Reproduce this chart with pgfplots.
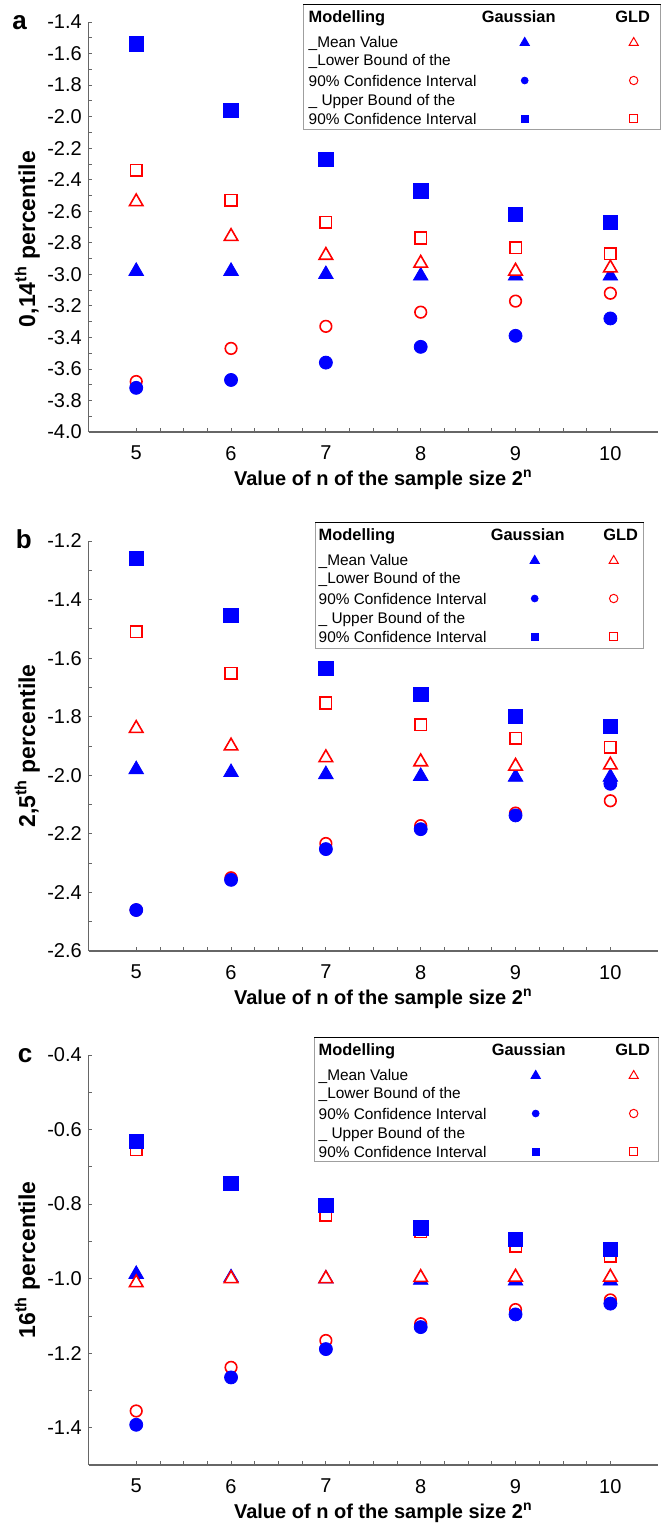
\documentclass[border=0pt]{standalone}
\usepackage{pgfplots}
\pgfplotsset{compat=1.18}
\usepackage{pgfplotstable}
\usepackage{fontspec}
\setmainfont{Liberation Sans}

% columns: n, Gaussian mean/lower/upper, GLD mean/lower/upper
\pgfplotstableread{
n gmean glow gup lmean llow lup
5  -2.98 -3.72 -1.54 -2.54 -3.68 -2.34
6  -2.98 -3.67 -1.96 -2.76 -3.47 -2.53
7  -3.00 -3.56 -2.27 -2.88 -3.33 -2.67
8  -3.01 -3.46 -2.47 -2.93 -3.24 -2.77
9  -3.01 -3.39 -2.62 -2.98 -3.17 -2.83
10 -3.01 -3.28 -2.67 -2.96 -3.12 -2.87
}\dataA

\pgfplotstableread{
n gmean glow gup lmean llow lup
5  -1.980 -2.460 -1.260 -1.840 -2.460 -1.510
6  -1.990 -2.357 -1.454 -1.900 -2.350 -1.652
7  -1.997 -2.252 -1.636 -1.940 -2.233 -1.753
8  -2.003 -2.184 -1.724 -1.954 -2.172 -1.827
9  -2.006 -2.137 -1.799 -1.969 -2.129 -1.874
10 -2.006 -2.029 -1.834 -1.965 -2.087 -1.905
}\dataB

\pgfplotstableread{
n gmean glow gup lmean llow lup
5  -0.988 -1.392 -0.632 -1.011 -1.355 -0.654
6  -0.997 -1.265 -0.744 -1.000 -1.238 -0.748
7  -1.000 -1.189 -0.804 -1.000 -1.166 -0.829
8  -1.004 -1.130 -0.864 -0.997 -1.121 -0.874
9  -1.006 -1.096 -0.894 -0.996 -1.083 -0.913
10 -1.006 -1.067 -0.922 -0.996 -1.057 -0.939
}\dataC

% legend body: #1 width, #2 height, #3 text x, #4 Gaussian header x, #5 Gaussian mark x, #6 GLD header x, #7 GLD mark x
\newcommand{\legendbody}[7]{%
  \path (0pt,0pt) rectangle (#1,-#2);
  \draw[gray!75, line width=0.7pt] (0pt,0pt) -- (0pt,-#2) -- (#1,-#2) -- (#1,0pt);
  \node[anchor=base west, inner sep=0pt, font=\bfseries\fontsize{8.2}{9}\selectfont] at (#3,-8.95pt) {Modelling};
  \node[anchor=base, inner sep=0pt, font=\bfseries\fontsize{8.2}{9}\selectfont] at (#4,-8.95pt) {Gaussian};
  \node[anchor=base, inner sep=0pt, font=\bfseries\fontsize{8.2}{9}\selectfont] at (#6,-8.95pt) {GLD};
  \node[anchor=base west, inner sep=0pt, font=\fontsize{7.7}{9}\selectfont] at (#3,-21.25pt) {\_Mean Value};
  \node[anchor=base west, inner sep=0pt, font=\fontsize{7.7}{9}\selectfont] at (#3,-30.25pt) {\_Lower Bound of the};
  \node[anchor=base west, inner sep=0pt, font=\fontsize{7.7}{9}\selectfont] at (#3,-40.75pt) {90\% Confidence Interval};
  \node[anchor=base west, inner sep=0pt, font=\fontsize{7.7}{9}\selectfont] at (#3,-50.25pt) {\_ Upper Bound of the};
  \node[anchor=base west, inner sep=0pt, font=\fontsize{7.7}{9}\selectfont] at (#3,-59.75pt) {90\% Confidence Interval};
  \draw[blue, fill=blue, mark=triangle*, mark size=2.7pt, mark options={blue, fill=blue}] plot coordinates {(#5,-19.1pt)};
  \draw[red, mark=triangle*, mark size=2.6pt, mark options={draw=red, fill=white, line width=0.5pt}] plot coordinates {(#7,-19.1pt)};
  \draw[blue, mark=*, mark size=1.7pt, mark options={blue, fill=blue}] plot coordinates {(#5,-38pt)};
  \draw[red, mark=*, mark size=2.1pt, mark options={draw=red, fill=white, line width=0.5pt}] plot coordinates {(#7,-38pt)};
  \draw[blue, mark=square*, mark size=1.7pt, mark options={blue, fill=blue}] plot coordinates {(#5,-57pt)};
  \draw[red, mark=square*, mark size=2.1pt, mark options={draw=red, fill=white, line width=0.5pt}] plot coordinates {(#7,-57pt)};
}

\pgfplotsset{
  panel/.style={
    scale only axis, width=284.5pt, height=205pt,
    xmin=4.5, xmax=10.5, xtick={5,6,7,8,9,10}, minor x tick num=3,
    axis x line*=bottom, axis y line*=left,
    tick align=inside, major tick length=1.8pt, minor tick length=1.8pt,
    axis line style={black!60, line width=0.6pt},
    every tick/.style={black!60, line width=0.4pt},
    tick label style={font=\fontsize{10}{11}\selectfont, black},
    yticklabel style={/pgf/number format/.cd, fixed, fixed zerofill, precision=1, assume math mode=true},
    xticklabel style={/pgf/number format/assume math mode=true, yshift=-3.5pt},
    xlabel={Value of n of the sample size 2\textsuperscript{n}},
    xlabel style={at={([xshift=5pt]axis description cs:0.5,0)}, anchor=base, yshift=-26.6pt, font=\bfseries\fontsize{10}{11}\selectfont},
    ylabel style={anchor=base, font=\bfseries\fontsize{11.5}{12}\selectfont},
    legend style={at={(rel axis cs:0,1)}, anchor=north west, draw=none, fill=none,
      inner sep=0pt, outer sep=0pt, column sep=0pt, row sep=0pt, nodes={inner sep=0pt}},
    clip=false,
  },
  gsq/.style={only marks, mark=square*, mark size=3.6pt, blue, mark options={blue, fill=blue}, forget plot},
  gci/.style={only marks, mark=*, mark size=3.25pt, blue, mark options={blue, fill=blue}, forget plot},
  gtr/.style={only marks, mark=triangle*, mark size=4.2pt, blue, mark options={blue, fill=blue}, forget plot},
  lsq/.style={only marks, mark=square*, mark size=2.9pt, red, mark options={draw=red, fill=white, line width=0.8pt}, forget plot},
  lci/.style={only marks, mark=*, mark size=2.9pt, red, mark options={draw=red, fill=white, line width=0.8pt}, forget plot},
  ltr/.style={only marks, mark=triangle*, mark size=3.9pt, red, mark options={draw=red, fill=white, line width=0.8pt}, forget plot},
}

\begin{document}
\begin{tikzpicture}
\path[use as bounding box] (0pt,0pt) rectangle (333.5pt,-763.5pt);

% ---------- panel a ----------
\begin{axis}[panel, name=A, at={(44.4pt,-11pt)}, anchor=north west,
  ymin=-4.0, ymax=-1.4,
  ytick={-4.0,-3.8,-3.6,-3.4,-3.2,-3.0,-2.8,-2.6,-2.4,-2.2,-2.0,-1.8,-1.6,-1.4},
  minor y tick num=1,
  ylabel={0,14\textsuperscript{th} percentile},
  ylabel style={at={([xshift=-26.8pt,yshift=-6pt]axis description cs:0,0.5)}},
  legend style={xshift=107.1pt, yshift=9.5pt}]
\addplot[lsq] table[x=n,y=lup]{\dataA};
\addplot[gsq] table[x=n,y=gup]{\dataA};
\addplot[lci] table[x=n,y=llow]{\dataA};
\addplot[gci] table[x=n,y=glow]{\dataA};
\addplot[gtr] table[x=n,y=gmean]{\dataA};
\addplot[ltr] table[x=n,y=lmean]{\dataA};
\addlegendimage{legend image code/.code={\legendbody{178.5pt}{62.5pt}{2.5pt}{107.5pt}{110.5pt}{164.5pt}{165pt}}}
\addlegendentry{}
\end{axis}
\node[anchor=base, inner sep=0pt, font=\bfseries\fontsize{13}{14}\selectfont] at ([xshift=-34.6pt,yshift=-3.6pt]A.north west) {a};

% ---------- panel b ----------
\begin{axis}[panel, name=B, at={(44.4pt,-270.5pt)}, anchor=north west,
  ymin=-2.6, ymax=-1.2,
  ytick={-2.6,-2.4,-2.2,-2.0,-1.8,-1.6,-1.4,-1.2},
  minor y tick num=1,
  ylabel={2,5\textsuperscript{th} percentile},
  ylabel style={at={([xshift=-26.8pt]axis description cs:0,0.5)}},
  legend style={xshift=113.1pt, yshift=10pt}]
\addplot[lsq] table[x=n,y=lup]{\dataB};
\addplot[gsq] table[x=n,y=gup]{\dataB};
\addplot[lci] table[x=n,y=llow]{\dataB};
\addplot[gci] table[x=n,y=glow]{\dataB};
\addplot[gtr] table[x=n,y=gmean]{\dataB};
\addplot[ltr] table[x=n,y=lmean]{\dataB};
\addlegendimage{legend image code/.code={\legendbody{164pt}{63pt}{1.5pt}{106pt}{109.5pt}{152.5pt}{149pt}}}
\addlegendentry{}
\end{axis}
\node[anchor=base, inner sep=0pt, font=\bfseries\fontsize{13}{14}\selectfont] at ([xshift=-32.5pt,yshift=-3.6pt]B.north west) {b};

% ---------- panel c ----------
\begin{axis}[panel, name=C, at={(44.4pt,-527.5pt)}, anchor=north west,
  ymin=-1.5, ymax=-0.4,
  ytick={-1.4,-1.2,-1.0,-0.8,-0.6,-0.4},
  minor ytick={-1.5,-1.3,-1.1,-0.9,-0.7,-0.5},
  ylabel={16\textsuperscript{th} percentile},
  ylabel style={at={([xshift=-26.8pt]axis description cs:0,0.5)}},
  legend style={xshift=112.6pt, yshift=9.5pt}]
\addplot[lsq] table[x=n,y=lup]{\dataC};
\addplot[gsq] table[x=n,y=gup]{\dataC};
\addplot[lci] table[x=n,y=llow]{\dataC};
\addplot[gci] table[x=n,y=glow]{\dataC};
\addplot[gtr] table[x=n,y=gmean]{\dataC};
\addplot[ltr] table[x=n,y=lmean]{\dataC};
\addlegendimage{legend image code/.code={\legendbody{172pt}{62pt}{2pt}{107pt}{110.5pt}{159pt}{159.5pt}}}
\addlegendentry{}
\end{axis}
\node[anchor=base, inner sep=0pt, font=\bfseries\fontsize{13}{14}\selectfont] at ([xshift=-31.9pt,yshift=-3.6pt]C.north west) {c};
\end{tikzpicture}
\end{document}
